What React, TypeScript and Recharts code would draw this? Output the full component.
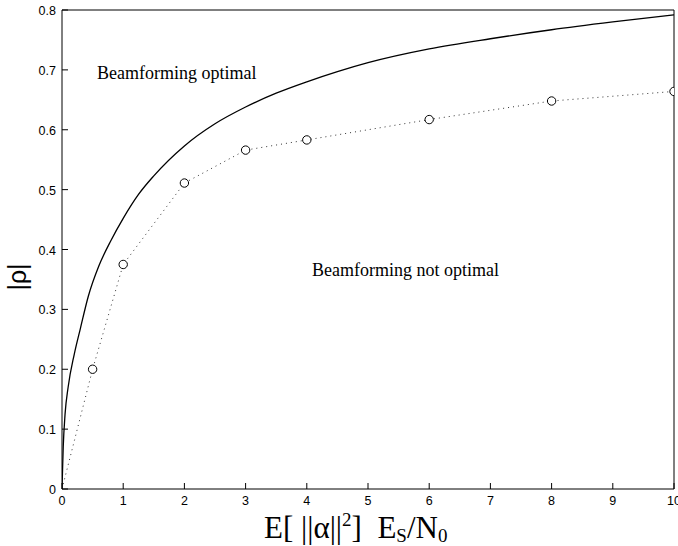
import React from "react";
import { LineChart, Line, XAxis, YAxis } from "recharts";

// solid curve: optimal |rho| threshold
const CURVE_X = [0, 0.02, 0.05, 0.1, 0.2, 0.3, 0.43, 0.6, 0.8, 1, 1.25, 1.5, 2, 2.5, 3, 3.5, 4, 4.5, 5, 6, 7, 8, 9, 10];
const CURVE_Y = [0, 0.07, 0.125, 0.17, 0.225, 0.268, 0.322, 0.372, 0.415, 0.452, 0.492, 0.523, 0.573, 0.61, 0.638, 0.661, 0.68, 0.697, 0.712, 0.735, 0.752, 0.767, 0.78, 0.792];

// dotted curve with circle markers
const SIM_X = [0, 0.5, 1, 2, 3, 4, 6, 8, 10];
const SIM_Y = [0, 0.2, 0.375, 0.511, 0.566, 0.583, 0.617, 0.648, 0.664];

const X_TICKS = [0, 1, 2, 3, 4, 5, 6, 7, 8, 9, 10];
const Y_TICKS = [0, 0.1, 0.2, 0.3, 0.4, 0.5, 0.6, 0.7, 0.8];

const curveData = CURVE_X.map((x, i) => ({ x, y: CURVE_Y[i] }));
const simData = SIM_X.map((x, i) => ({ x, y: SIM_Y[i] }));

const W = 678;
const H = 546;
const TICK = 6;
const tickFont = { fontFamily: "'Liberation Sans', Arial, sans-serif", fontSize: 12.5, fill: "#000" };

const BottomTick = (p: any) => (
  <g>
    <line x1={p.x} y1={p.y} x2={p.x} y2={p.y - TICK} stroke="#000" />
    <text x={p.x} y={p.y + 16} textAnchor="middle" {...tickFont}>
      {p.payload.value}
    </text>
  </g>
);

const LeftTick = (p: any) => (
  <g>
    <line x1={p.x} y1={p.y} x2={p.x + TICK} y2={p.y} stroke="#000" />
    <text x={p.x - 6} y={p.y + 5} textAnchor="end" {...tickFont}>
      {p.payload.value}
    </text>
  </g>
);

const TopTick = (p: any) => <line x1={p.x} y1={p.y} x2={p.x} y2={p.y + TICK} stroke="#000" />;
const RightTick = (p: any) => <line x1={p.x} y1={p.y} x2={p.x - TICK} y2={p.y} stroke="#000" />;

const SimDot = (p: any) =>
  p.index === 0 ? (
    <g key={`d-${p.index}`} />
  ) : (
    <circle key={`d-${p.index}`} cx={p.cx} cy={p.cy} r={4.2} fill="#fff" stroke="#000" strokeWidth={1} />
  );

export default function App() {
  return (
    <div style={{ position: "absolute", left: 0, top: 0, width: W, height: H, background: "#fff" }}>
      <LineChart width={W} height={H} margin={{ top: 9, right: 3, left: 61, bottom: 56 }}>
        <XAxis
          xAxisId="b"
          type="number"
          dataKey="x"
          domain={[0, 10]}
          ticks={X_TICKS}
          interval={0}
          height={1}
          tickSize={0}
          tickMargin={0}
          tick={BottomTick}
          axisLine={{ stroke: "#000" }}
          tickLine={false}
          allowDataOverflow
        />
        <XAxis
          xAxisId="t"
          orientation="top"
          type="number"
          dataKey="x"
          domain={[0, 10]}
          ticks={X_TICKS}
          interval={0}
          height={1}
          tickSize={0}
          tickMargin={0}
          tick={TopTick}
          axisLine={{ stroke: "#000" }}
          tickLine={false}
        />
        <YAxis
          yAxisId="l"
          type="number"
          domain={[0, 0.8]}
          ticks={Y_TICKS}
          interval={0}
          width={1}
          tickSize={0}
          tickMargin={0}
          tick={LeftTick}
          axisLine={{ stroke: "#000" }}
          tickLine={false}
          allowDataOverflow
        />
        <YAxis
          yAxisId="r"
          orientation="right"
          type="number"
          domain={[0, 0.8]}
          ticks={Y_TICKS}
          interval={0}
          width={1}
          tickSize={0}
          tickMargin={0}
          tick={RightTick}
          axisLine={{ stroke: "#000" }}
          tickLine={false}
        />
        <Line
          xAxisId="b"
          yAxisId="l"
          data={curveData}
          dataKey="y"
          type="monotone"
          stroke="#000"
          strokeWidth={1.3}
          dot={false}
          isAnimationActive={false}
        />
        <Line
          xAxisId="b"
          yAxisId="l"
          data={simData}
          dataKey="y"
          type="linear"
          stroke="#333"
          strokeWidth={1}
          strokeDasharray="1 4"
          dot={SimDot}
          isAnimationActive={false}
        />
      </LineChart>
      <svg
        width={W}
        height={H}
        style={{ position: "absolute", left: 0, top: 0, pointerEvents: "none" }}
      >
        <g fontFamily="'Liberation Serif', 'Times New Roman', serif" fill="#000">
          <text x={97} y={79} fontSize={18}>Beamforming optimal</text>
          <text x={312} y={276} fontSize={18}>Beamforming not optimal</text>
          <text x={264} y={538} fontSize={31}>
            {"E[ ||α||"}
            <tspan fontSize={19} dy={-12}>2</tspan>
            <tspan dy={12}>{"]\u00a0\u00a0E"}</tspan>
            <tspan fontSize={19} dy={4}>S</tspan>
            <tspan dy={-4}>/N</tspan>
            <tspan fontSize={19} dy={4}>0</tspan>
          </text>
        </g>
        <text
          x={0}
          y={0}
          transform="translate(26,277) rotate(-90)"
          textAnchor="middle"
          fontFamily="'Liberation Sans', Arial, sans-serif"
          fontSize={25}
          fill="#000"
        >
          |ρ|
        </text>
      </svg>
    </div>
  );
}
